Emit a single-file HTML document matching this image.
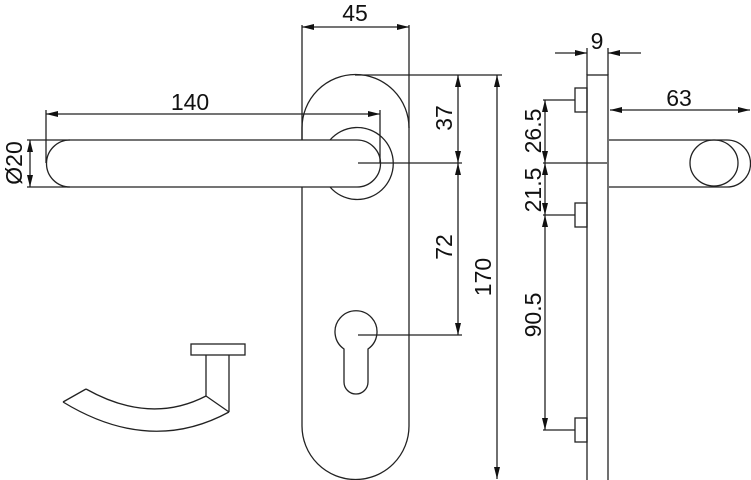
<!DOCTYPE html>
<html><head><meta charset="utf-8"><style>html,body{margin:0;padding:0;background:#fff}svg{display:block}text{font-family:"Liberation Sans",sans-serif;font-size:23px;fill:#111}</style></head><body>
<svg width="751" height="480" viewBox="0 0 751 480" xmlns="http://www.w3.org/2000/svg">
<defs><marker id="a" viewBox="0 0 12 6" refX="12" refY="3" markerWidth="12" markerHeight="6" orient="auto-start-reverse" markerUnits="userSpaceOnUse"><path d="M0,0L12,3L0,6z" fill="#111"/></marker></defs>
<g fill="none" stroke="#222" stroke-width="1.3">
<path d="M302,128 A53.5,53.5 0 0 1 409,128 L409,426 A53.5,53.5 0 0 1 302,426 Z" fill="#fff"/>
<path d="M330,140 A36,36 0 1 1 330,187"/>
<path d="M70,140 L357,140 A23.5,23.5 0 0 1 357,187 L70,187 A23.5,23.5 0 0 1 70,140 Z" fill="#fff"/>
<path d="M344,349 A21,21 0 1 1 368,349 L368,382 A12,12 0 0 1 344,382 Z"/>
<line x1="302" y1="25" x2="302" y2="140"/><line x1="409" y1="25" x2="409" y2="128"/>
<line x1="302" y1="27" x2="409" y2="27" marker-start="url(#a)" marker-end="url(#a)"/>
<line x1="46" y1="110" x2="46" y2="163"/><line x1="380" y1="110" x2="380" y2="163"/>
<line x1="46" y1="114" x2="380" y2="114" marker-start="url(#a)" marker-end="url(#a)"/>
<line x1="27" y1="140" x2="70" y2="140"/><line x1="27" y1="187" x2="70" y2="187"/>
<line x1="30" y1="140" x2="30" y2="187" marker-start="url(#a)" marker-end="url(#a)"/>
<line x1="355" y1="75" x2="502" y2="75"/>
<line x1="358" y1="163" x2="462" y2="163"/>
<line x1="358" y1="335" x2="462" y2="335"/>
<line x1="458" y1="75" x2="458" y2="163" marker-start="url(#a)" marker-end="url(#a)"/>
<line x1="458" y1="163" x2="458" y2="335" marker-start="url(#a)" marker-end="url(#a)"/>
<line x1="497" y1="75" x2="497" y2="479" marker-start="url(#a)" marker-end="url(#a)"/>
<rect x="191" y="344" width="54" height="11"/>
<path d="M206,355 L206,396 M229,355 L229,412 M206,396 L229,412"/>
<path d="M86,389 Q150,425 206,396 M63,402 L86,389 M63,402 Q150,455 229,412"/>
<rect x="587" y="75" width="21" height="410" fill="#fff"/>
<rect x="575" y="88" width="12" height="24"/><rect x="575" y="203" width="12" height="24"/><rect x="575" y="418" width="12" height="24"/>
<line x1="543" y1="100" x2="575" y2="100"/><line x1="543" y1="215" x2="575" y2="215"/><line x1="543" y1="430" x2="575" y2="430"/>
<line x1="543" y1="163" x2="607" y2="163"/>
<line x1="545" y1="100" x2="545" y2="163" marker-start="url(#a)" marker-end="url(#a)"/>
<line x1="545" y1="163" x2="545" y2="215" marker-start="url(#a)" marker-end="url(#a)"/>
<line x1="545" y1="215" x2="545" y2="430" marker-start="url(#a)" marker-end="url(#a)"/>
<line x1="587" y1="48" x2="587" y2="75"/><line x1="608" y1="48" x2="608" y2="75"/>
<line x1="555" y1="53" x2="587" y2="53" marker-end="url(#a)"/>
<line x1="641" y1="53" x2="608" y2="53" marker-end="url(#a)"/>
<line x1="610" y1="110" x2="750" y2="110" marker-start="url(#a)" marker-end="url(#a)"/>
<path d="M609,140 L727,140 A23.5,23.5 0 0 1 727,187 L609,187"/>
<ellipse cx="714" cy="163" rx="24" ry="23"/>
</g>
<text x="355" y="21" text-anchor="middle">45</text>
<text x="190" y="110" text-anchor="middle">140</text>
<text transform="translate(22,163) rotate(-90)" text-anchor="middle">Ø20</text>
<text transform="translate(452,118) rotate(-90)" text-anchor="middle">37</text>
<text transform="translate(452,247) rotate(-90)" text-anchor="middle">72</text>
<text transform="translate(491,277) rotate(-90)" text-anchor="middle">170</text>
<text x="597" y="49" text-anchor="middle">9</text>
<text x="679" y="106" text-anchor="middle">63</text>
<text transform="translate(541,131) rotate(-90)" text-anchor="middle">26.5</text>
<text transform="translate(541,190) rotate(-90)" text-anchor="middle">21.5</text>
<text transform="translate(541,315) rotate(-90)" text-anchor="middle">90.5</text>
</svg>
</body></html>
